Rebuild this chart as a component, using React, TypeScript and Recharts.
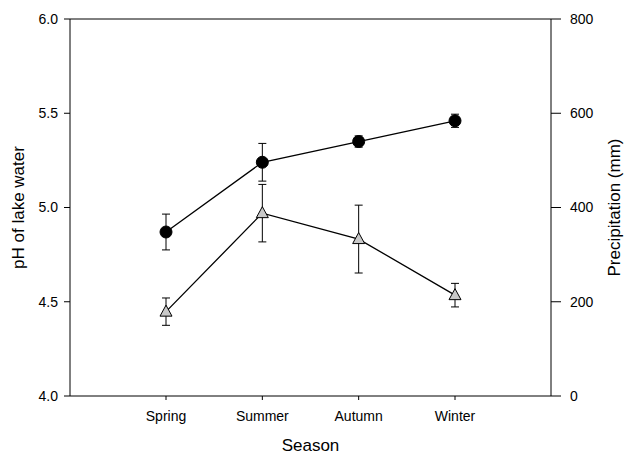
import { LineChart, Line, XAxis, YAxis, ErrorBar, ReferenceLine } from 'recharts';

// seasonal means with standard errors
const seasons = ['Spring', 'Summer', 'Autumn', 'Winter'];
const phValues = [4.87, 5.24, 5.35, 5.46];
const phErrors = [0.095, 0.1, 0.03, 0.035];
const precipValues = [179, 388, 333, 214];
const precipErrors = [29, 61, 72, 25];
const phTicks = [4.0, 4.5, 5.0, 5.5, 6.0];
const precipTicks = [0, 200, 400, 600, 800];

const data = seasons.map((season, i) => ({
  season,
  ph: phValues[i],
  phErr: phErrors[i],
  precip: precipValues[i],
  precipErr: precipErrors[i],
}));

const FONT = '"Liberation Sans", Arial, sans-serif';

function TriangleDot(props: any) {
  const { cx, cy, index } = props;
  if (cx == null || cy == null) return null;
  return (
    <polygon
      key={`tri-${index}`}
      points={`${cx},${cy - 6.5} ${cx - 6},${cy + 4.5} ${cx + 6},${cy + 4.5}`}
      fill="#c8c8c8"
      stroke="#000"
      strokeWidth={1}
    />
  );
}

export default function App() {
  return (
    <div
      style={{
        position: 'absolute',
        left: 0,
        top: 0,
        width: 624,
        height: 455,
        background: '#fff',
        fontFamily: FONT,
      }}
    >
      <LineChart width={624} height={455} data={data} margin={{ top: 19, right: 0, bottom: 0, left: 0 }}>
        <XAxis
          dataKey="season"
          height={59}
          padding={{ left: 96, right: 96 }}
          tickSize={4}
          tickMargin={11}
          axisLine={{ stroke: '#000' }}
          tickLine={{ stroke: '#000' }}
          tick={{ fill: '#000', fontSize: 14, fontFamily: FONT }}
          label={{ value: 'Season', position: 'insideBottom', offset: 4, style: { fontSize: 17, fill: '#000', fontFamily: FONT } }}
        />
        <YAxis
          yAxisId="left"
          width={70}
          domain={[4, 6]}
          ticks={phTicks}
          tickFormatter={(v: number) => v.toFixed(1)}
          tickSize={6}
          tickMargin={6}
          axisLine={{ stroke: '#000' }}
          tickLine={{ stroke: '#000' }}
          tick={{ fill: '#000', fontSize: 14, fontFamily: FONT }}
          label={{
            value: 'pH of lake water',
            angle: -90,
            position: 'insideLeft',
            offset: 18,
            style: { textAnchor: 'middle', fontSize: 17, fill: '#000', fontFamily: FONT },
          }}
        />
        <YAxis
          yAxisId="right"
          orientation="right"
          width={73}
          domain={[0, 800]}
          ticks={precipTicks}
          tickSize={10}
          tickMargin={9}
          axisLine={{ stroke: '#000' }}
          tickLine={{ stroke: '#000' }}
          tick={{ fill: '#000', fontSize: 14, fontFamily: FONT }}
          label={{
            value: 'Precipitation (mm)',
            angle: -90,
            position: 'insideRight',
            offset: 10,
            style: { textAnchor: 'middle', fontSize: 17, fill: '#000', fontFamily: FONT },
          }}
        />
        <ReferenceLine yAxisId="left" y={6} stroke="#000" />
        <Line
          yAxisId="right"
          dataKey="precip"
          stroke="#000"
          strokeWidth={1.3}
          dot={TriangleDot}
          activeDot={false}
          isAnimationActive={false}
        >
          <ErrorBar dataKey="precipErr" width={4} stroke="#000" strokeWidth={1} />
        </Line>
        <Line
          yAxisId="left"
          dataKey="ph"
          stroke="#000"
          strokeWidth={1.3}
          dot={{ r: 6, fill: '#000', stroke: '#000', strokeWidth: 1 }}
          activeDot={false}
          isAnimationActive={false}
        >
          <ErrorBar dataKey="phErr" width={4} stroke="#000" strokeWidth={1} />
        </Line>
      </LineChart>
    </div>
  );
}
